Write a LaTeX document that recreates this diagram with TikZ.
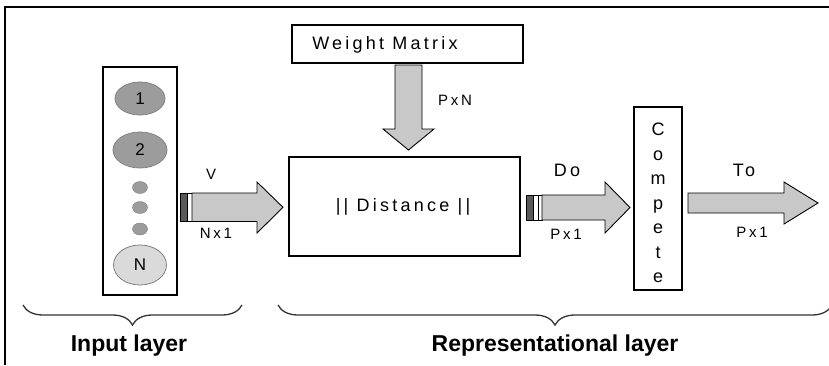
\documentclass[tikz,border=0pt]{standalone}
\usepackage{fontspec}
\setmainfont{Liberation Sans}
\newfontfamily\spfont{Liberation Sans}[LetterSpace=18]
\usetikzlibrary{decorations.pathreplacing,shapes.geometric}
\definecolor{arrowgray}{HTML}{C8C8C8}
\definecolor{darkball}{HTML}{9C9C9C}
\definecolor{lightball}{HTML}{DADADA}
\definecolor{ballline}{HTML}{808080}
\tikzset{
  box/.style={draw=black, line width=1.4pt, fill=white, inner sep=0pt},
  blockarrow/.style={draw=black, line width=0.9pt, fill=arrowgray, line join=miter},
  stripedark/.style={draw=black, line width=0.8pt, fill=black!65},
  stripelight/.style={draw=black, line width=0.8pt, fill=white},
  bigball/.style={ellipse, draw=ballline, line width=0.8pt, fill=darkball, inner sep=0pt},
  nball/.style={ellipse, draw=ballline, line width=0.8pt, fill=lightball, inner sep=0pt},
  dot/.style={ellipse, fill=darkball, draw=ballline, line width=0.4pt, minimum width=15pt, minimum height=12pt, inner sep=0pt},
  biglabel/.style={font=\spfont\fontsize{18}{20}\selectfont, inner sep=0pt},
  smalllabel/.style={font=\spfont\fontsize{15}{17}\selectfont, inner sep=0pt},
  layerlabel/.style={font=\bfseries\fontsize{23}{26}\selectfont, inner sep=0pt},
  layerbrace/.style={draw=black!80, line width=1.3pt, decorate, decoration={brace, mirror, amplitude=20pt}},
  frameline/.style={draw=black, line width=1.6pt}
}
\begin{document}
\begin{tikzpicture}[x=1pt, y=-1pt]
\useasboundingbox (0,0) rectangle (829,365);
% frame
\draw[frameline] (5,365) -- (5,7) -- (830,7);

% input layer box and balls
\node[box, minimum width=74pt, minimum height=228pt] (inbox) at (140,181) {};
\node[bigball, minimum width=50pt, minimum height=33pt, font=\fontsize{17}{19}\selectfont] (b1) at (140,98.5) {1};
\node[bigball, minimum width=54pt, minimum height=36pt, font=\fontsize{17}{19}\selectfont] (b2) at (140,150) {2};
\node[dot] (d1) at (140,187.5) {};
\node[dot] (d2) at (140,207.5) {};
\node[dot] (d3) at (140,229) {};
\node[nball, minimum width=53pt, minimum height=40pt, font=\fontsize{17}{19}\selectfont] (bn) at (140,265) {N};

% weight matrix
\node[box, minimum width=231pt, minimum height=38pt] (wm) at (407.5,44) {};
\node[biglabel] (wmtext) at (385,45) {Weight Matrix};

% distance
\node[box, minimum width=231pt, minimum height=99pt] (dist) at (404.5,206.5) {};
\node[biglabel] (disttext) at (403,207) {|| Distance ||};

% compete
\node[box, minimum width=48pt, minimum height=183pt] (comp) at (658,198.5) {};
\node[align=center, inner sep=0pt, font=\fontsize{18}{24.5}\selectfont] (comptext) at (658,203) {C\\o\\m\\p\\e\\t\\e};

% V arrow
\draw[stripedark] (180,193) rectangle (187,221.5);
\draw[stripelight] (187,193) rectangle (192,221.5);
\draw[blockarrow] (192,193) -- (257,193) -- (257,182) -- (283,207.3) -- (257,233) -- (257,221.5) -- (192,221.5) -- cycle;
\node[smalllabel] (vlab) at (211,174) {V};
\node[smalllabel] (nx1) at (216,233) {Nx1};

% weight arrow
\draw[blockarrow] (395,65) -- (422,65) -- (422,129) -- (434,129) -- (408.5,150) -- (383,129) -- (395,129) -- cycle;
\node[smalllabel] (pxn) at (455,100) {PxN};

% Do arrow
\draw[stripedark] (526,195) rectangle (533,220);
\draw[stripelight] (533,195) rectangle (538,220);
\draw[stripelight] (538,195) rectangle (542,220);
\draw[blockarrow] (542,195) -- (605,195) -- (605,182) -- (630,207.5) -- (605,233) -- (605,220) -- (542,220) -- cycle;
\node[biglabel] (dolab) at (567,170) {Do};
\node[smalllabel] (px1a) at (566,234) {Px1};

% To arrow
\draw[blockarrow] (688,193) -- (784,193) -- (784,182) -- (818,203) -- (784,224) -- (784,213) -- (688,213) -- cycle;
\node[biglabel] (tolab) at (744,170) {To};
\node[smalllabel] (px1b) at (752,232) {Px1};

% braces
\draw[layerbrace] (23,305) -- (242,305);
\draw[layerbrace] (278,305) -- (832,305);
\node[layerlabel] (inlab) at (129,346) {Input layer};
\node[layerlabel] (replab) at (555,346) {Representational layer};
\end{tikzpicture}
\end{document}
